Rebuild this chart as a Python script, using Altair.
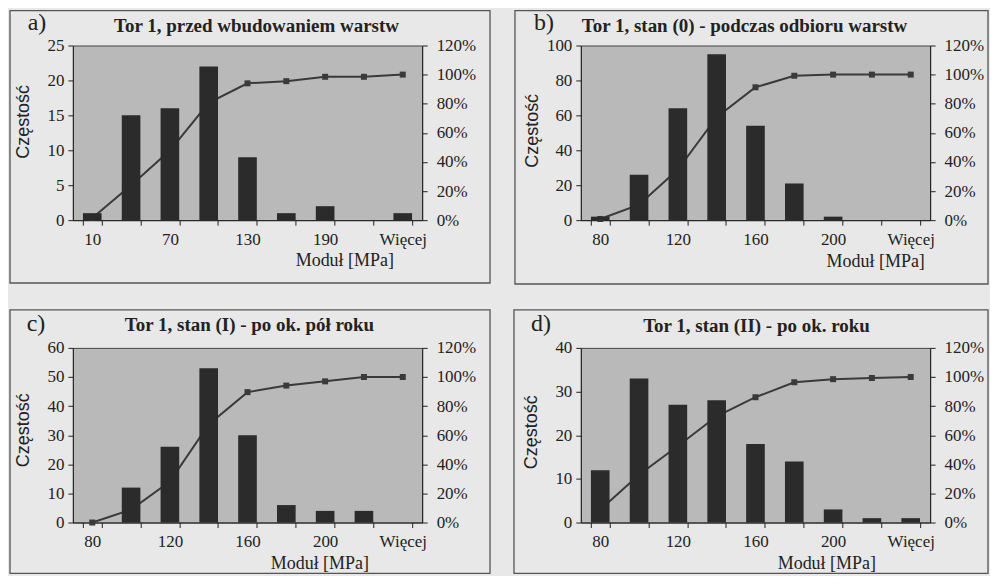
import json
import altair as alt
import pandas as pd

# ---- data ----
cats_a = ["10", "40", "70", "100", "130", "160", "190", "220", "Więcej"]
shown_a = ["10", "70", "130", "190", "Więcej"]
counts_a = [1, 15, 16, 22, 9, 1, 2, 0, 1]
cum_a = [0.015, 0.239, 0.478, 0.806, 0.940, 0.955, 0.985, 0.985, 1.0]

cats_b = ["80", "100", "120", "140", "160", "180", "200", "220", "Więcej"]
shown_b = ["80", "120", "160", "200", "Więcej"]
counts_b = [2, 26, 64, 95, 54, 21, 2, 0, 0]
cum_b = [0.008, 0.106, 0.348, 0.708, 0.913, 0.992, 1.0, 1.0, 1.0]

counts_c = [0, 12, 26, 53, 30, 6, 4, 4, 0]
cum_c = [0.0, 0.089, 0.281, 0.674, 0.896, 0.941, 0.970, 1.0, 1.0]

counts_d = [12, 33, 27, 28, 18, 14, 3, 1, 1]
cum_d = [0.088, 0.328, 0.526, 0.730, 0.861, 0.964, 0.985, 0.993, 1.0]

titles = ["Tor 1, przed wbudowaniem warstw",
          "Tor 1, stan (0) - podczas odbioru warstw",
          "Tor 1, stan (I) - po ok. pół roku",
          "Tor 1, stan (II) - po ok. roku"]
letters = ["a)", "b)", "c)", "d)"]
pct_ticks = [0, 0.2, 0.4, 0.6, 0.8, 1.0, 1.2]

# ---- style ----
W, H = 350, 175
SERIF = "Liberation Serif, Times New Roman, serif"
SANS = "Liberation Sans, Arial, sans-serif"
INK = "#222222"
BAR = "#2b2b2b"
LINE = "#3a3a3a"
PLOT_BG = "#b9b9b9"
PAGE_BG = "#e8e8e8"
FRAME = "#555555"
LABEL_SIZE = 17

one = pd.DataFrame({"k": [0]})


def panel(cats, shown, counts, cum, ymax, ystep, title, letter, pos):
    df = pd.DataFrame({"kat": cats, "n": counts, "cum": cum})
    label_expr = "indexof(%s, datum.value) >= 0 ? datum.label : ''" % json.dumps(shown, ensure_ascii=False)
    x = alt.X(
        "kat:N", sort=cats, title="Moduł [MPa]",
        scale=alt.Scale(type="band", paddingInner=0.52, paddingOuter=0.26),
        axis=alt.Axis(labelAngle=0, labelExpr=label_expr, tickBand="extent",
                      tickSize=5, labelPadding=6, labelFont=SERIF, labelFontSize=LABEL_SIZE,
                      labelColor=INK, domainColor=INK, tickColor=INK,
                      titleFont=SERIF, titleFontSize=18, titleFontWeight="normal",
                      titleColor=INK, titleX=pos["xt"][0], titleY=pos["xt"][1],
                      titleAlign="center", titleBaseline="middle"),
    )
    bars = alt.Chart(df).mark_bar(color=BAR).encode(
        x=x,
        y=alt.Y("n:Q", scale=alt.Scale(domain=[0, ymax], nice=False),
                axis=alt.Axis(orient="left", values=list(range(0, ymax + 1, ystep)),
                              title="Częstość", grid=False, tickSize=5, labelPadding=4,
                              labelFont=SERIF, labelFontSize=LABEL_SIZE, labelColor=INK,
                              domainColor=INK, tickColor=INK,
                              titleFont=SANS, titleFontSize=18, titleFontWeight="normal",
                              titleColor=INK, titleAngle=270,
                              titleX=pos["yt"][0], titleY=pos["yt"][1],
                              titleAlign="center", titleBaseline="middle")),
    )
    line = alt.Chart(df).mark_line(
        color=LINE, strokeWidth=2,
        point=alt.OverlayMarkDef(shape="square", size=36, filled=True, color=LINE),
    ).encode(
        x=x,
        y=alt.Y("cum:Q", scale=alt.Scale(domain=[0, 1.2], nice=False),
                axis=alt.Axis(orient="right", values=pct_ticks, format=".0%", title=None,
                              grid=False, tickSize=5, labelPadding=9,
                              labelFont=SERIF, labelFontSize=LABEL_SIZE, labelColor=INK,
                              domainColor=INK, tickColor=INK)),
    )
    fx0, fx1, fy0, fy1 = pos["frame"]
    frame = alt.Chart(one).mark_rect(fillOpacity=0, stroke=FRAME, strokeWidth=1.3).encode(
        x=alt.value(fx0), x2=alt.value(fx1), y=alt.value(fy0), y2=alt.value(fy1))
    ttl = alt.Chart(one).mark_text(font=SERIF, fontSize=19, fontWeight="bold", color=INK).encode(
        x=alt.value(pos["title"][0]), y=alt.value(pos["title"][1]), text=alt.value(title))
    let = alt.Chart(one).mark_text(font=SERIF, fontSize=24, color=INK).encode(
        x=alt.value(pos["letter"][0]), y=alt.value(pos["letter"][1]), text=alt.value(letter))
    return alt.layer(frame, ttl, let, line, bars).resolve_scale(y="independent").properties(
        width=W, height=H)


pos_a = {"frame": (-63, 418, -35, 238), "letter": (-36, -23), "title": (184, -20),
         "yt": (-49, 76), "xt": (272, 40)}
pos_b = {"frame": (-66, 408, -35, 239), "letter": (-37, -23), "title": (164, -20),
         "yt": (-48, 85), "xt": (295, 41)}
pos_c = {"frame": (-63, 418, -38, 226), "letter": (-37, -24), "title": (177, -23),
         "yt": (-49, 82), "xt": (247, 41)}
pos_d = {"frame": (-67, 408, -38, 226), "letter": (-40, -24), "title": (176, -22),
         "yt": (-49, 84), "xt": (246, 41)}

pa = panel(cats_a, shown_a, counts_a, cum_a, 25, 5, titles[0], letters[0], pos_a)
pb = panel(cats_b, shown_b, counts_b, cum_b, 100, 20, titles[1], letters[1], pos_b)
pc = panel(cats_b, shown_b, counts_c, cum_c, 60, 10, titles[2], letters[2], pos_c)
pd_ = panel(cats_b, shown_b, counts_d, cum_d, 40, 10, titles[3], letters[3], pos_d)

chart = alt.concat(pa, pb, pc, pd_, columns=2).properties(
    spacing=alt.RowColnumber(row=128, column=159),
    bounds="flush",
    background=PAGE_BG,
    padding=0,
).configure_view(
    fill=PLOT_BG, stroke="#444444", strokeWidth=1
).configure_axis(
    labelFont=SERIF, labelFontSize=LABEL_SIZE, titleFont=SERIF
).configure_axisLeft(
    titleFont=SANS
).configure_text(font=SERIF)

chart.save("out.html", embed_options={"renderer": "svg", "actions": False})
